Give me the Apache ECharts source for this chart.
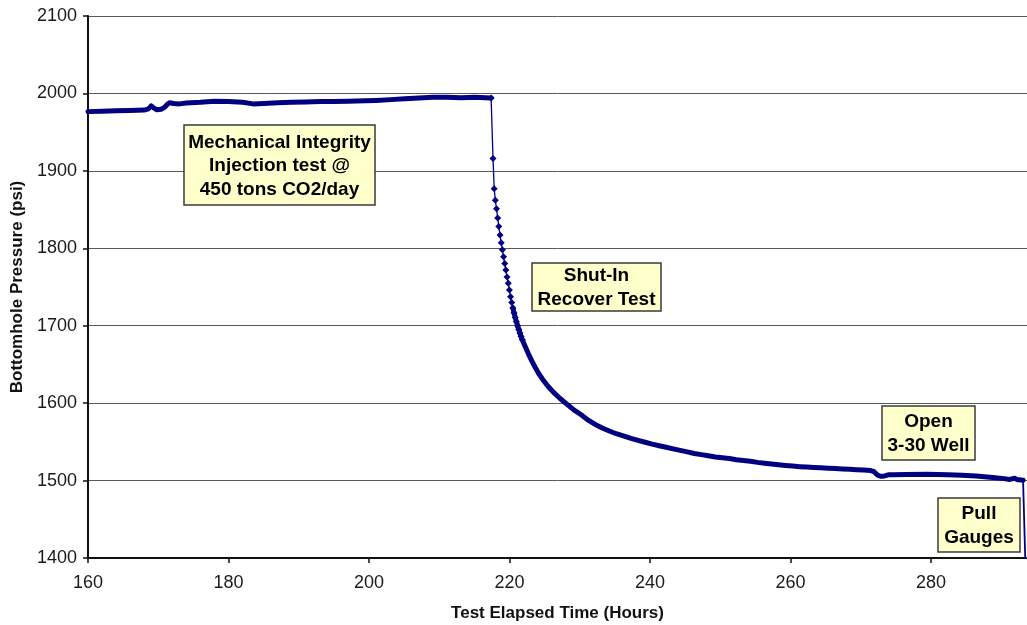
<!DOCTYPE html>
<html>
<head>
<meta charset="utf-8">
<title>Bottomhole Pressure vs Test Elapsed Time</title>
<script src="https://cdn.jsdelivr.net/npm/echarts@6/dist/echarts.min.js"></script>
<style>
  html, body { margin: 0; padding: 0; background: #fff; }
  #chart { width: 1027px; height: 625px; }
</style>
</head>
<body>
<div id="chart"></div>
<script>
// Gauge record: elapsed test time (hours) and bottomhole pressure (psi)
const hours = [
  160.0, 162.0, 164.0, 166.0, 168.0, 168.6, 169.0, 169.4, 169.8, 170.4,
  170.9, 171.3, 171.6, 172.2, 173.0, 174.0, 176.0, 178.0, 180.0, 182.0,
  183.5, 185.0, 187.0, 189.0, 191.0, 193.0, 195.0, 197.0, 199.5, 201.0,
  203.1, 205.1, 207.1, 209.1, 211.1, 213.1, 215.1, 216.6, 217.38,
  // shut-in fall-off, 10-minute readings
  217.65, 217.82, 217.98, 218.15, 218.32, 218.48, 218.65, 218.82, 218.98,
  219.15, 219.32, 219.48, 219.65, 219.82, 219.98, 220.15, 220.32, 220.48,
  220.65, 220.82, 220.98, 221.15, 221.32, 221.48, 221.65, 221.82,
  222.17, 222.67, 223.17, 223.67, 224.17, 224.7, 225.2, 225.7, 226.2,
  227.2, 228.2, 229.2, 230.2, 231.2, 232.2, 233.2, 234.2, 235.2, 236.3,
  237.3, 238.3, 239.3, 240.3, 241.3, 242.3, 243.3, 244.3, 245.3, 246.3,
  247.3, 248.3, 249.3, 250.3, 251.3, 252.3, 253.3, 254.3, 255.3, 256.3,
  257.3, 258.3, 259.3, 260.3, 261.3, 262.3, 263.3, 264.3, 265.4, 266.4,
  267.4, 268.4, 269.4, 270.4, 271.4, 271.9, 272.4, 272.8, 273.4, 273.9,
  274.6, 276.4, 279.4, 282.4, 284.4, 286.4, 288.8, 290.4, 291.2, 291.9,
  292.2, 293.1,
  // gauges pulled
  293.47
];
const psi = [
  1976.5, 1977.0, 1977.5, 1978.0, 1978.5, 1980.0, 1984.0, 1981.0, 1979.0, 1979.5,
  1982.0, 1986.0, 1988.0, 1987.0, 1986.5, 1987.5, 1988.5, 1990.0, 1989.5, 1988.5,
  1986.5, 1987.0, 1988.0, 1988.5, 1989.0, 1989.5, 1989.5, 1990.0, 1990.5, 1991.0,
  1992.0, 1993.0, 1994.0, 1995.0, 1995.0, 1994.5, 1995.0, 1994.5, 1994.0,
  1916.0, 1877.0, 1862.0, 1851.0, 1839.0, 1828.0, 1817.0, 1807.0, 1798.0,
  1789.0, 1780.5, 1772.0, 1763.0, 1755.0, 1746.0, 1737.5, 1730.0, 1723.0,
  1716.5, 1710.5, 1705.0, 1700.0, 1695.0, 1690.5, 1686.0, 1682.0,
  1674.5, 1664.0, 1654.5, 1646.0, 1638.0, 1631.0, 1625.0, 1619.5, 1614.5,
  1606.0, 1598.5, 1591.0, 1585.0, 1578.0, 1572.5, 1568.0, 1564.0, 1560.5, 1557.5,
  1554.5, 1552.0, 1549.5, 1547.0, 1545.0, 1543.0, 1541.0, 1539.0, 1537.0, 1535.0,
  1533.5, 1532.0, 1530.5, 1529.5, 1528.5, 1527.0, 1526.0, 1525.0, 1523.5, 1522.5,
  1521.5, 1520.5, 1519.5, 1518.7, 1518.0, 1517.5, 1517.0, 1516.5, 1516.0, 1515.5,
  1515.0, 1514.5, 1514.0, 1513.5, 1513.0, 1511.5, 1507.0, 1505.5, 1506.0, 1507.5,
  1507.5, 1508.0, 1508.3, 1507.5, 1507.0, 1506.0, 1504.0, 1502.5, 1501.5, 1503.0,
  1501.5, 1500.5,
  1380.0
];

// Axis ticks
const xTicks = [160, 180, 200, 220, 240, 260, 280];
const yTicks = [1400, 1500, 1600, 1700, 1800, 1900, 2000, 2100];

// Annotation texts
const noteTexts = [
  'Mechanical Integrity\nInjection test @\n450 tons CO2/day',
  'Shut-In\nRecover Test',
  'Open\n3-30 Well',
  'Pull\nGauges'
];

// Test phases (hours), used to switch the trace style
const SHUT_IN = 217.38;     // start of the fall-off
const BEADS_END = 221.82;   // individual readings stay visible until here
const BAND_START = 220.48;  // dense readings merge into a solid trace
const PULL = 293.1;         // gauges pulled from the well

function pick(lo, hi) {
  const out = [];
  for (let i = 0; i < hours.length; i++) {
    if (hours[i] >= lo && hours[i] <= hi) out.push([hours[i], psi[i]]);
  }
  return out;
}

const NAVY = '#000080';
const FONT = '"Liberation Sans", Arial, Helvetica, sans-serif';

// Annotation box layout: [left, top, width, height]
const noteBoxes = [
  [184, 125, 191, 80],
  [532, 263, 129, 48],
  [882, 406, 93, 54],
  [938, 498, 82, 54]
];
const noteLineHeight = 23.5;

const graphic = [];
noteTexts.forEach(function (txt, i) {
  const b = noteBoxes[i];
  graphic.push({
    type: 'rect',
    z: 100,
    shape: { x: b[0], y: b[1], width: b[2], height: b[3] },
    style: { fill: '#FFFFCC', stroke: '#3a3a3a', lineWidth: 1.5 }
  });
  graphic.push({
    type: 'text',
    z: 101,
    style: {
      text: txt,
      x: b[0] + b[2] / 2,
      y: b[1] + b[3] / 2 + 1,
      align: 'center',
      verticalAlign: 'middle',
      font: 'bold 19px ' + FONT,
      lineHeight: noteLineHeight,
      fill: '#000'
    }
  });
});

const chart = echarts.init(document.getElementById('chart'), null, { renderer: 'canvas' });

chart.setOption({
  animation: false,
  backgroundColor: '#fff',
  grid: { left: 88, top: 16, right: 0, bottom: 67, outerBoundsMode: 'none', containLabel: false },
  xAxis: {
    type: 'value',
    min: xTicks[0],
    max: 293.66,
    interval: xTicks[1] - xTicks[0],
    name: 'Test Elapsed Time (Hours)',
    nameLocation: 'middle',
    nameGap: 47,
    nameTextStyle: { fontFamily: FONT, fontWeight: 'bold', fontSize: 17, color: '#111' },
    axisLine: { show: true, onZero: false, lineStyle: { color: '#111', width: 2 } },
    axisTick: { show: true, length: 5, lineStyle: { color: '#111', width: 1.5 }, customValues: xTicks },
    axisLabel: {
      fontFamily: FONT, fontSize: 18, color: '#1a1a1a', margin: 16, customValues: xTicks,
      formatter: function (v) { return String(v); }
    },
    splitLine: { show: false }
  },
  yAxis: {
    type: 'value',
    min: yTicks[0],
    max: yTicks[yTicks.length - 1],
    interval: yTicks[1] - yTicks[0],
    name: 'Bottomhole Pressure (psi)',
    nameLocation: 'middle',
    nameRotate: 90,
    nameGap: 58,
    nameTextStyle: { fontFamily: FONT, fontWeight: 'bold', fontSize: 17, color: '#111' },
    axisLine: { show: true, lineStyle: { color: '#111', width: 2 } },
    axisTick: { show: true, length: 5, lineStyle: { color: '#111', width: 1.5 } },
    axisLabel: {
      fontFamily: FONT, fontSize: 18, color: '#1a1a1a', margin: 11,
      formatter: function (v) { return String(v); }
    },
    splitLine: { show: true, lineStyle: { color: '#5a5a5a', width: 1 } }
  },
  series: [
    {
      name: 'Injection',
      type: 'line',
      data: pick(0, SHUT_IN),
      showSymbol: false,
      lineStyle: { color: NAVY, width: 5, cap: 'round', join: 'round' },
      z: 3
    },
    {
      name: 'Fall-off readings',
      type: 'line',
      data: pick(SHUT_IN, BEADS_END),
      symbol: 'diamond',
      symbolSize: 7,
      showAllSymbol: true,
      itemStyle: { color: NAVY },
      lineStyle: { color: NAVY, width: 1.3 },
      z: 4
    },
    {
      name: 'Fall-off',
      type: 'line',
      data: pick(BAND_START, PULL),
      showSymbol: false,
      lineStyle: { color: NAVY, width: 5, cap: 'round', join: 'round' },
      z: 3
    },
    {
      name: 'Pull gauges',
      type: 'line',
      data: pick(PULL, 400),
      showSymbol: false,
      clip: true,
      lineStyle: { color: NAVY, width: 1.8 },
      z: 3
    }
  ],
  graphic: graphic
});
</script>
</body>
</html>
